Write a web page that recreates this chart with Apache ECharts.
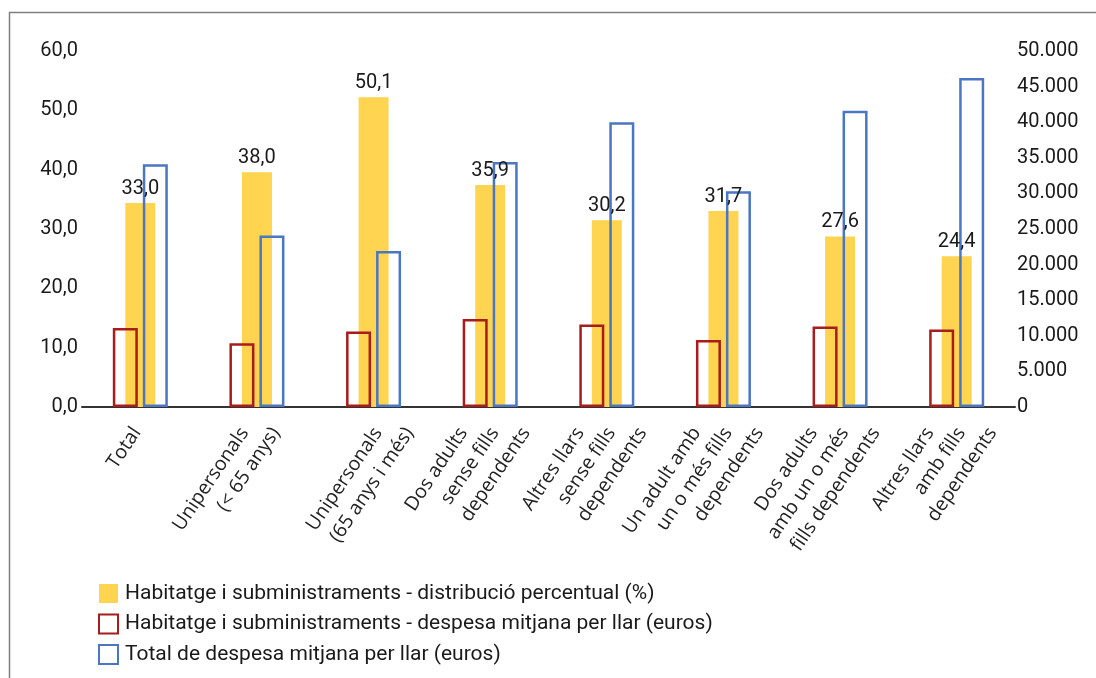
<!DOCTYPE html>
<html>
<head>
<meta charset="utf-8">
<script src="https://cdn.jsdelivr.net/npm/echarts@6/dist/echarts.min.js"></script>
<style>
html,body{margin:0;padding:0;background:#fff;}
#chart{width:1096px;height:678px;}
</style>
</head>
<body>
<div id="chart"></div>
<script>
// ---- data ----
const categories = [
  'Total',
  'Unipersonals\n(< 65 anys)',
  'Unipersonals\n(65 anys i més)',
  'Dos adults\nsense fills\ndependents',
  'Altres llars\nsense fills\ndependents',
  'Un adult amb\nun o més fills\ndependents',
  'Dos adults\namb un o més\nfills dependents',
  'Altres llars\namb fills\ndependents'
];
const seriesNames = [
  'Habitatge i subministraments - distribució percentual (%)',
  'Habitatge i subministraments - despesa mitjana per llar (euros)',
  'Total de despesa mitjana per llar (euros)'
];
const pctHousing = [33.0, 38.0, 50.1, 35.9, 30.2, 31.7, 27.6, 24.4];
const eurHousing = [11100, 8950, 10600, 12350, 11600, 9400, 11300, 10900];
const eurTotal   = [34100, 24100, 21900, 34400, 40000, 30300, 41600, 46200];
const leftTicks  = {min: 0, max: 60, interval: 10};
const rightTicks = {min: 0, max: 50000, interval: 5000};

// ---- layout / style (not data) ----
const FONT = 'Roboto, "Noto Sans", sans-serif';
const CATFONT = '"Open Sans", "Noto Sans", sans-serif';
const LH = 26;
const ROT = 56;
const STEP = LH / Math.tan(ROT * Math.PI / 180);
// per-label extra trailing pad / top spacer, to mimic the spreadsheet's label placement
const catLabelLayout = [
  {pad: 22.0, top: 19.3},
  {pad: 9.5, top: 11.9},
  {pad: 0, top: 26},
  {pad: 0, top: 0},
  {pad: 0, top: 0},
  {pad: 0, top: 0},
  {pad: 0, top: 0},
  {pad: 0, top: 0}
];

const rich = {t: {fontFamily: CATFONT, fontSize: 19.5, color: '#222', lineHeight: LH}};
categories.forEach((c, i) => {
  const n = c.split('\n').length;
  const lay = catLabelLayout[i];
  if (lay.top > 0) rich['h' + i] = {lineHeight: lay.top, height: lay.top, fontSize: 1};
  for (let k = 0; k < n; k++) {
    const w = lay.pad + (n - 1 - k) * STEP;
    if (w > 0.5) rich['p' + i + '_' + k] = {width: w, lineHeight: LH, fontSize: 1};
  }
});
function fmtCat(v, i) {
  const lines = v.split('\n');
  const out = [];
  if (rich['h' + i]) out.push('{h' + i + '|\u00a0}');
  lines.forEach((s, k) => {
    let str = '{t|' + s + '}';
    if (rich['p' + i + '_' + k]) str += '{p' + i + '_' + k + '|\u00a0}';
    out.push(str);
  });
  return out.join('\n');
}
const fmtComma = v => v.toFixed(1).replace('.', ',');
const fmtThousands = v => v === 0 ? '0' : String(v).replace(/\B(?=(\d{3})+(?!\d))/g, '.');

const chart = echarts.init(document.getElementById('chart'), null, {renderer: 'canvas'});
const G0 = {left: 82, right: 81, top: 51, bottom: 271};
const SHIFT = -18;

chart.setOption({
  animation: false,
  backgroundColor: '#ffffff',
  graphic: [{
    type: 'rect', silent: true,
    shape: {x: 9.5, y: 12.5, width: 1200, height: 800},
    style: {fill: 'none', stroke: '#7f7f7f', lineWidth: 1.5}
  }],
  grid: [
    {left: G0.left, right: G0.right, top: G0.top, bottom: G0.bottom},
    {left: G0.left + SHIFT, right: G0.right - SHIFT, top: G0.top, bottom: G0.bottom}
  ],
  legend: {
    orient: 'vertical',
    left: 93, top: 578,
    icon: 'rect',
    itemWidth: 19, itemHeight: 19, itemGap: 9.5,
    data: seriesNames,
    textStyle: {fontFamily: FONT, fontSize: 21, color: '#1a1a1a', padding: [0, 0, 0, 2]},
    selectedMode: false
  },
  xAxis: [
    {type: 'category', gridIndex: 0, data: categories,
     axisLine: {show: true, lineStyle: {color: '#333', width: 2}},
     axisTick: {show: false}, axisLabel: {show: false}, splitLine: {show: false}},
    {type: 'category', gridIndex: 0, data: categories, show: false},
    {type: 'category', gridIndex: 1, data: categories,
     axisLine: {show: false}, axisTick: {show: false}, splitLine: {show: false},
     axisLabel: {
       interval: 0, rotate: ROT, margin: -14,
       align: 'right', verticalAlign: 'top',
       formatter: fmtCat,
       rich: rich
     }}
  ],
  yAxis: [
    {type: 'value', gridIndex: 0, position: 'left', min: leftTicks.min, max: leftTicks.max, interval: leftTicks.interval,
     axisLine: {show: false}, axisTick: {show: false}, splitLine: {show: false},
     axisLabel: {formatter: fmtComma, fontFamily: FONT, fontSize: 20, color: '#1a1a1a', margin: 4, padding: [3, 0, 0, 0]}},
    {type: 'value', gridIndex: 0, position: 'right', min: rightTicks.min, max: rightTicks.max, interval: rightTicks.interval,
     axisLine: {show: false}, axisTick: {show: false}, splitLine: {show: false},
     axisLabel: {formatter: fmtThousands, fontFamily: FONT, fontSize: 20, color: '#1a1a1a', margin: 2, padding: [3, 0, 0, 0]}},
    {type: 'value', gridIndex: 0, min: 0, max: 57.6, show: false},
    {type: 'value', gridIndex: 1, show: false}
  ],
  series: [
    {name: seriesNames[0], type: 'bar', xAxisIndex: 1, yAxisIndex: 2, data: pctHousing,
     barWidth: 30, itemStyle: {color: '#FFD450'},
     label: {show: true, position: 'top', distance: 4, formatter: p => fmtComma(p.value),
             fontFamily: FONT, fontSize: 20, color: '#1a1a1a'}},
    {name: seriesNames[1], type: 'bar', xAxisIndex: 0, yAxisIndex: 1, data: eurHousing,
     barWidth: 25, barGap: '20%',
     itemStyle: {color: 'rgba(255,255,255,0)', borderColor: '#A81C1C', borderWidth: 2.5}},
    {name: seriesNames[2], type: 'bar', xAxisIndex: 0, yAxisIndex: 1, data: eurTotal,
     barWidth: 25, barGap: '20%',
     itemStyle: {color: 'rgba(255,255,255,0)', borderColor: '#4A76C2', borderWidth: 2.5}}
  ]
});
</script>
</body>
</html>
